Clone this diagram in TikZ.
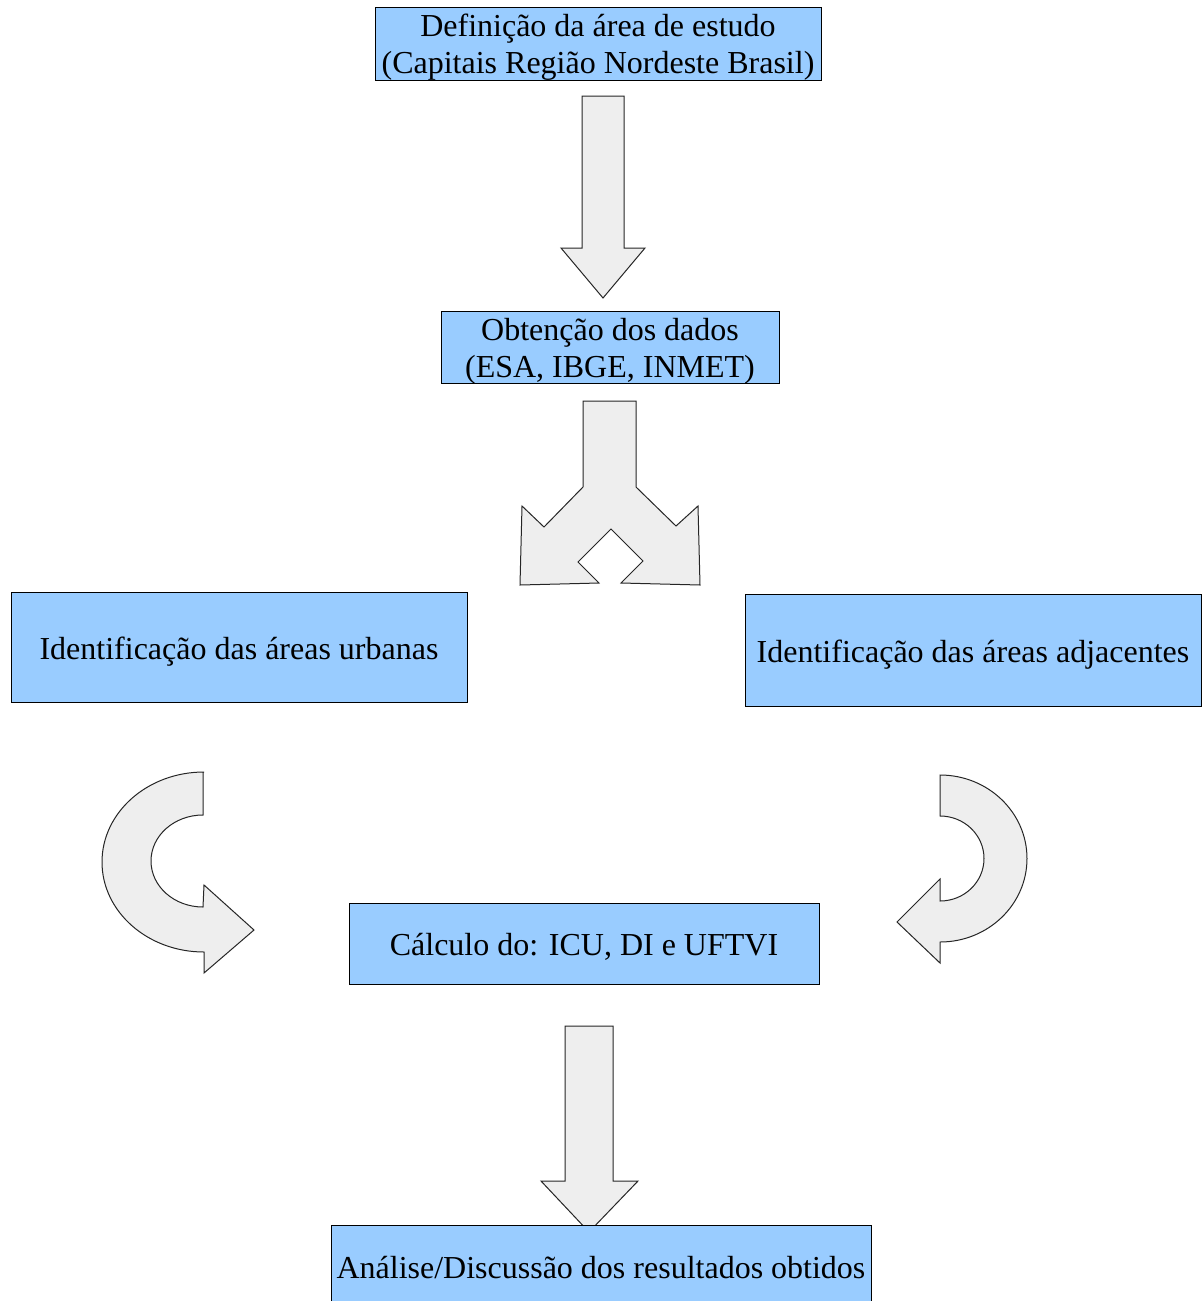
\documentclass[tikz,border=0pt]{standalone}
\usepackage{fontspec}
\setmainfont{Liberation Serif}
\definecolor{boxblue}{HTML}{99CCFF}
\definecolor{arrowgray}{HTML}{EEEEEE}
\begin{document}
\begin{tikzpicture}[x=1pt,y=1pt,
 box/.style={draw=black, fill=boxblue, line width=1pt, inner sep=0pt},
 lbl/.style={font=\fontsize{32}{37}\selectfont, align=center, inner sep=0pt},
 blockarrow/.style={draw=black!85, fill=arrowgray, line width=1pt, line join=miter}]
\useasboundingbox (0,0) rectangle (1203,-1301);
\fill[white] (0,0) rectangle (1203,-1301);

% boxes
\node[box, minimum width=446pt, minimum height=73pt] (b1) at (598,-43.5) {};
\node[lbl] (t1) at ([yshift=-4pt]b1.center) {Definição da área de estudo\\(Capitais Região Nordeste Brasil)};
\node[box, minimum width=338pt, minimum height=72pt] (b2) at (610,-347) {};
\node[lbl] (t2) at ([yshift=-4pt]b2.center) {Obtenção dos dados\\(ESA, IBGE, INMET)};
\node[box, minimum width=456pt, minimum height=110pt] (b3) at (239,-647) {};
\node[lbl] (t3) at ([yshift=-5pt]b3.center) {Identificação das áreas urbanas};
\node[box, minimum width=456pt, minimum height=112pt] (b4) at (973,-650) {};
\node[lbl] (t4) at ([yshift=-5pt]b4.center) {Identificação das áreas adjacentes};
\node[box, minimum width=470pt, minimum height=81pt] (b5) at (584,-943.5) {};
\node[lbl] (t5) at ([yshift=-3pt]b5.center) {Cálculo do: ICU, DI e UFTVI};

% straight arrow 1
\draw[blockarrow] (582,-96) -- (624,-96) -- (624,-248) -- (645,-248) -- (603,-298)
  -- (561,-248) -- (582,-248) -- cycle;

% split arrow
\draw[blockarrow] (583,-401) -- (636,-401) -- (636,-487) -- (676,-526) -- (698,-506)
  -- (700,-585) -- (621,-583) -- (643,-561) -- (611,-529) -- (578,-562) -- (599,-583)
  -- (520,-585) -- (522,-506) -- (544,-527) -- (583,-487) -- cycle;

% left curved arrow
\draw[blockarrow] (203,-772) -- (203,-815)
  arc[start angle=90, end angle=270, x radius=52, y radius=46]
  -- (204,-885) -- (254,-930) -- (204,-973) -- (204,-952)
  arc[start angle=270, end angle=90, x radius=102, y radius=90] -- cycle;

% right curved arrow
\draw[blockarrow] (940,-775) -- (940,-816)
  arc[start angle=90, end angle=-90, x radius=44, y radius=42.5]
  -- (940,-879) -- (897,-922) -- (940,-963) -- (940,-942)
  arc[start angle=-90, end angle=90, x radius=87, y radius=83.5] -- cycle;

% bottom arrow
\draw[blockarrow] (565,-1026) -- (613,-1026) -- (613,-1181) -- (638,-1181) -- (589,-1232)
  -- (541,-1181) -- (565,-1181) -- cycle;

% bottom box (cut off by the page edge)
\node[box, minimum width=540pt, minimum height=95pt, anchor=north] (b6) at (601,-1225) {};
\node[lbl] (t6) at (601,-1268) {Análise/Discussão dos resultados obtidos};
\end{tikzpicture}
\end{document}
